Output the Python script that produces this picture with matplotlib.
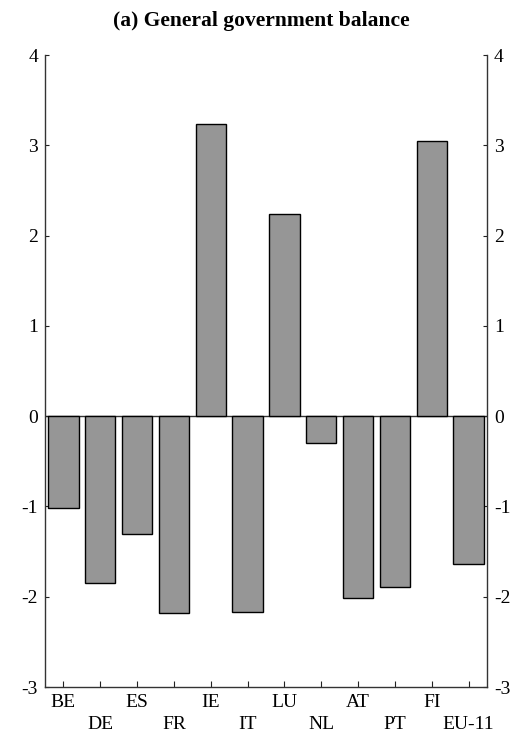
import numpy as np
import matplotlib.pyplot as plt

countries = ['BE', 'DE', 'ES', 'FR', 'IE', 'IT', 'LU', 'NL', 'AT', 'PT', 'FI', 'EU-11']
balance = [-1.02, -1.85, -1.30, -2.18, 3.24, -2.17, 2.24, -0.30, -2.01, -1.89, 3.05, -1.64]
yticks = [-3, -2, -1, 0, 1, 2, 3, 4]

plt.rcParams['font.family'] = ['Liberation Serif', 'DejaVu Serif']
plt.rcParams['font.size'] = 14

fig = plt.figure(figsize=(5.23, 7.33), dpi=100)
ax = fig.add_axes([45 / 523, 1 - 687 / 733, 442 / 523, 632 / 733])

x = np.arange(len(countries))
ax.bar(x, balance, width=0.82, color='#969696', edgecolor='black', linewidth=1.0, zorder=2)
ax.axhline(0, color='#333333', linewidth=1.0, zorder=1)

ax.set_xlim(-0.5, len(countries) - 0.5)
ax.set_ylim(-3, 4)
ax.set_yticks(yticks)
ax.set_yticklabels([str(t) for t in yticks])
ax.set_xticks(x)
# alternate labels go on a second row
ax.set_xticklabels([c if i % 2 == 0 else '\n' + c for i, c in enumerate(countries)], linespacing=1.4)

ax.tick_params(axis='y', direction='in', length=3, width=0.8, left=True, right=True,
               labelleft=True, labelright=True, pad=5, colors='#222222', labelcolor='black')
ax.tick_params(axis='x', direction='in', length=4, width=0.8, pad=5, colors='#222222', labelcolor='black')

ax.spines['top'].set_visible(False)
for s in ['left', 'right', 'bottom']:
    ax.spines[s].set_color('#333333')
    ax.spines[s].set_linewidth(1.0)

fig.text(0.5, 1 - 21 / 733, '(a) General government balance', ha='center', va='center',
         fontsize=15.5, fontweight='bold')

fig.savefig('out.png', dpi=100)
